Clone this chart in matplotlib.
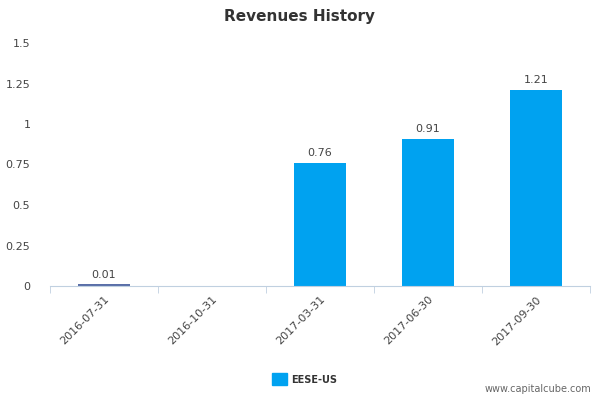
import matplotlib.pyplot as plt
import numpy as np

# Data
dates = ["2016-07-31", "2016-10-31", "2017-03-31", "2017-06-30", "2017-09-30"]
revenues = [0.01, 0.0, 0.76, 0.91, 1.21]
labels = ["0.01", "", "0.76", "0.91", "1.21"]
y_ticks = [0, 0.25, 0.5, 0.75, 1, 1.25, 1.5]
y_tick_labels = ["0", "0.25", "0.5", "0.75", "1", "1.25", "1.5"]

fig = plt.figure(figsize=(6, 4), dpi=100)
ax = fig.add_axes([0.083, 0.285, 0.9, 0.6075])

x = np.arange(len(dates))
colors = ["#5a6fa8"] + ["#00a2f0"] * (len(dates) - 1)
ax.bar(x, revenues, width=0.48, color=colors)
for xi, v, lab in zip(x, revenues, labels):
    if lab:
        ax.text(xi, v + 0.03, lab, ha="center", va="bottom", fontsize=8, color="#444444")

ax.set_xlim(-0.5, len(dates) - 0.5)
ax.set_ylim(0, 1.5)
ax.set_yticks(y_ticks)
ax.set_yticklabels(y_tick_labels)
ax.set_xticks(x)
ax.set_xticklabels(dates, rotation=45, ha="right", rotation_mode="anchor")
ax.set_xticks(np.arange(-0.5, len(dates)), minor=True)
ax.tick_params(axis="x", which="major", length=0, labelsize=8, colors="#444444", pad=6)
ax.tick_params(axis="x", which="minor", length=5, color="#c0d0e0")
ax.tick_params(axis="y", length=0, labelsize=8, colors="#444444", pad=14)
for s in ["top", "right", "left"]:
    ax.spines[s].set_visible(False)
ax.spines["bottom"].set_color("#c0d0e0")

fig.text(0.5, 0.96, "Revenues History", ha="center", va="center",
         fontsize=11, fontweight="bold", color="#333333")

# legend
fig.patches.append(plt.Rectangle((0.453, 0.038), 0.025, 0.03, color="#00a2f0",
                                 transform=fig.transFigure, figure=fig))
fig.text(0.485, 0.05, "EESE-US", fontsize=7, fontweight="bold", color="#333333", va="center")
fig.text(0.985, 0.02, "www.capitalcube.com", ha="right", fontsize=7, color="#666666")

plt.savefig("out.png", dpi=100)
